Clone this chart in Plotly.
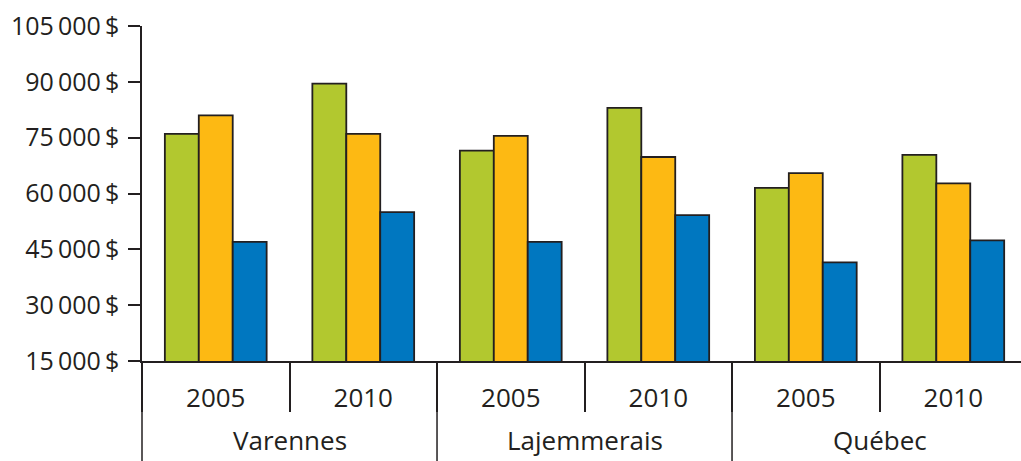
import plotly.graph_objects as go

cities = ["Varennes", "Lajemmerais", "Québec"]
years = ["2005", "2010"]

serie_verte = [76000, 89500, 71500, 83000, 61500, 70400]
serie_orange = [81000, 76000, 75500, 69800, 65500, 62700]
serie_bleue = [47000, 55000, 47000, 54200, 41500, 47400]

y_ticks = [15000, 30000, 45000, 60000, 75000, 90000, 105000]
y_labels = ["15\u2009000\u2009$", "30\u2009000\u2009$", "45\u2009000\u2009$", "60\u2009000\u2009$",
            "75\u2009000\u2009$", "90\u2009000\u2009$", "105\u2009000\u2009$"]

ink = "#231F20"
colors = ["#B2C82F", "#FDB913", "#0077C0"]
FONT = "Open Sans"

# one category per (city, year) slot
keys = [f"{c} {y}" for c in cities for y in years]
key_years = [y for c in cities for y in years]

fig = go.Figure()
for name, vals, col in [("Série 1", serie_verte, colors[0]),
                        ("Série 2", serie_orange, colors[1]),
                        ("Série 3", serie_bleue, colors[2])]:
    fig.add_trace(go.Bar(
        x=keys, y=vals, name=name,
        marker=dict(color=col, line=dict(color=ink, width=1.8)),
        showlegend=False,
    ))

n_years = len(years)
drop = 0.3  # paper units below the plot for the divider lines

# city group labels, centred under each group of years
for i, c in enumerate(cities):
    fig.add_annotation(
        x=i * n_years + (n_years - 1) / 2, xref="x",
        y=0, yref="paper", yanchor="middle", yshift=-79,
        text=c, showarrow=False,
        font=dict(family=FONT, size=26, color=ink),
    )

# long dividers between city groups, plus extension of the y axis line
for i in range(1, len(cities)):
    fig.add_shape(type="line", xref="x", yref="paper",
                  x0=i * n_years - 0.5, x1=i * n_years - 0.5, y0=0, y1=-drop,
                  line=dict(color=ink, width=1.5))
fig.add_shape(type="line", xref="paper", yref="paper",
              x0=0, x1=0, y0=0, y1=-drop, line=dict(color=ink, width=1.5))

fig.update_layout(
    width=1021, height=461,
    margin=dict(l=142, r=0, t=26, b=100, autoexpand=False),
    barmode="group", bargap=0.31, bargroupgap=0,
    plot_bgcolor="white", paper_bgcolor="white",
    font=dict(family=FONT, size=26, color=ink),
)
fig.update_xaxes(
    type="category",
    range=[-0.5, 5.459],
    tickmode="array", tickvals=keys, ticktext=key_years,
    showline=True, linecolor=ink, linewidth=1.5,
    ticks="outside", tickson="boundaries", ticklen=49, tickcolor=ink, tickwidth=1.5,
    ticklabelstandoff=13,
    showgrid=False, zeroline=False,
    tickfont=dict(family=FONT, size=26, color=ink),
)
fig.update_yaxes(
    range=[15000, 105000],
    tickmode="array", tickvals=y_ticks, ticktext=y_labels,
    showline=True, linecolor=ink, linewidth=1.5,
    ticks="outside", ticklen=12, tickcolor=ink, tickwidth=1.5,
    ticklabelstandoff=4,
    showgrid=False, zeroline=False,
    tickfont=dict(family=FONT, size=25, color=ink),
)

fig.write_html("out.html", config={"displayModeBar": False},
               post_script="document.body.style.margin='0';")
